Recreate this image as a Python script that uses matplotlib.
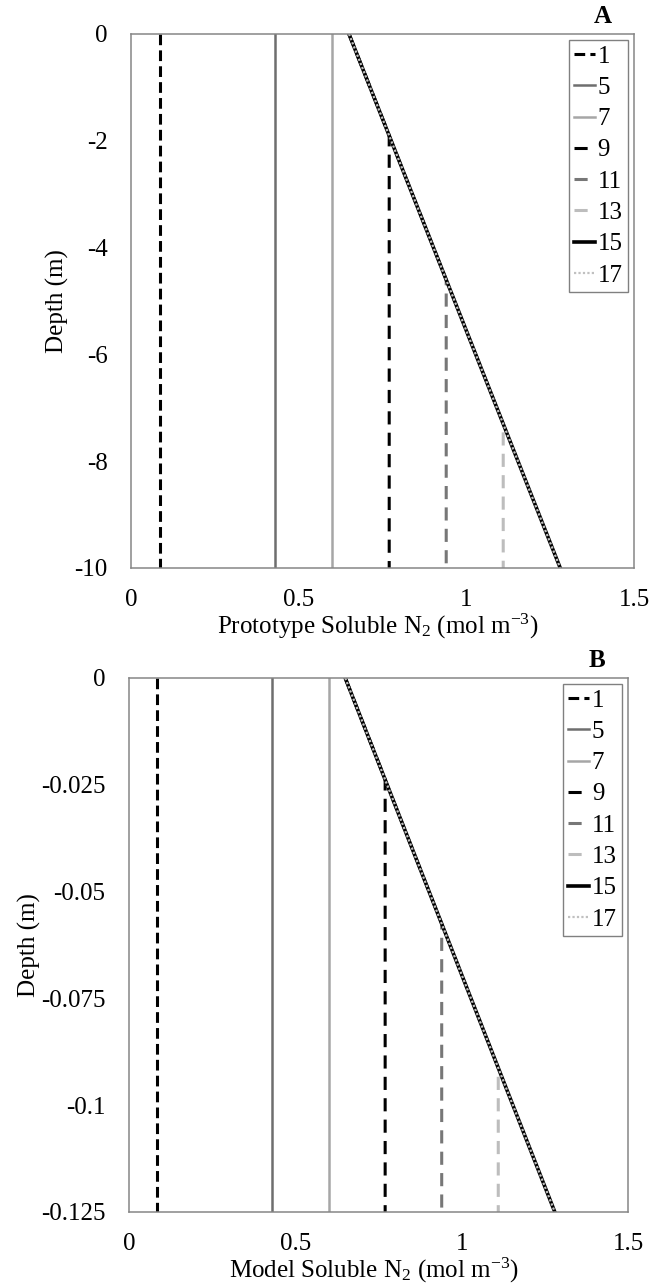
import matplotlib
matplotlib.use("Agg")
import matplotlib.pyplot as plt

plt.rcParams['font.family'] = ['Liberation Serif', 'DejaVu Serif']
plt.rcParams['mathtext.fontset'] = 'custom'
plt.rcParams['mathtext.rm'] = 'Liberation Serif'
plt.rcParams['mathtext.it'] = 'Liberation Serif:italic'
plt.rcParams['axes.unicode_minus'] = False

### legend entries (profile number)
series_names = ['1', '5', '7', '9', '11', '13', '15', '17']

### soluble N2 along each profile (mol m-3)
n2_1 = [0.085, 0.085]
n2_5 = [0.43, 0.43]
n2_7 = [0.60, 0.60]
n2_9 = [0.65, 0.77, 0.77]
n2_11 = [0.65, 0.94, 0.94]
n2_13 = [0.65, 1.11, 1.11]
n2_15 = [0.65, 1.28]
n2_17 = [0.65, 1.28]

### prototype depths (m)
proto_depth_1 = [0, -10]
proto_depth_5 = [0, -10]
proto_depth_7 = [0, -10]
proto_depth_9 = [0, -1.9, -10]
proto_depth_11 = [0, -4.6, -10]
proto_depth_13 = [0, -7.3, -10]
proto_depth_15 = [0, -10]
proto_depth_17 = [0, -10]

### model depths (m)
model_depth_1 = [0, -0.125]
model_depth_5 = [0, -0.125]
model_depth_7 = [0, -0.125]
model_depth_9 = [0, -0.02375, -0.125]
model_depth_11 = [0, -0.0575, -0.125]
model_depth_13 = [0, -0.09125, -0.125]
model_depth_15 = [0, -0.125]
model_depth_17 = [0, -0.125]

proto_yticks = [0, -2, -4, -6, -8, -10]
proto_ylabels = ['0', '-2', '-4', '-6', '-8', '-10']
model_yticks = [0, -0.025, -0.05, -0.075, -0.1, -0.125]
model_ylabels = ['0', '-0.025', '-0.05', '-0.075', '-0.1', '-0.125']
xticks = [0, 0.5, 1, 1.5]
xlabels = ['0', '0.5', '1', '1.5']

n2_all = [n2_1, n2_5, n2_7, n2_9, n2_11, n2_13, n2_15, n2_17]
proto_all = [proto_depth_1, proto_depth_5, proto_depth_7, proto_depth_9,
             proto_depth_11, proto_depth_13, proto_depth_15, proto_depth_17]
model_all = [model_depth_1, model_depth_5, model_depth_7, model_depth_9,
             model_depth_11, model_depth_13, model_depth_15, model_depth_17]

styles = {
    '1': dict(color='black', lw=2.2, dashes=(3.5, 1.7)),
    '5': dict(color='#6e6e6e', lw=1.8),
    '7': dict(color='#a6a6a6', lw=1.8),
    '9': dict(color='black', lw=2.2, dashes=(4.3, 2.7)),
    '11': dict(color='#777777', lw=2.2, dashes=(4.3, 2.7)),
    '13': dict(color='#bdbdbd', lw=2.2, dashes=(4.3, 2.7)),
    '15': dict(color='black', lw=2.6),
    '17': dict(color='#c0c0c0', lw=1.6, dashes=(1, 1)),
}

FS = 18


def draw_panel(ax, depths, yticks, ylabels, ymin, xlab, tag, ylab_x):
    for name, x, y in zip(series_names, n2_all, depths):
        ax.plot(x, y, label=name, **styles[name])
    ax.set_xlim(0, 1.5)
    ax.set_ylim(ymin, 0)
    ax.set_xticks(xticks)
    ax.set_xticklabels(xlabels)
    ax.set_yticks(yticks)
    ax.set_yticklabels(ylabels)
    ax.tick_params(length=0, labelsize=FS)
    ax.tick_params(axis='y', pad=17)
    ax.tick_params(axis='x', pad=15)
    for s in ax.spines.values():
        s.set_color('#868686')
        s.set_linewidth(1.1)
    ax.set_xlabel(xlab, fontsize=FS)
    ax.xaxis.set_label_coords(0.49, -0.082)
    ax.set_ylabel('Depth (m)', fontsize=FS)
    ax.yaxis.set_label_coords(ylab_x, 0.5)
    ax.text(0.955, 1.012, tag, transform=ax.transAxes, ha='right', va='bottom',
            fontsize=FS, fontweight='bold')
    leg = ax.legend(loc='upper right', bbox_to_anchor=(1, 1), borderaxespad=0.25,
                    fancybox=False, edgecolor='#808080', framealpha=1,
                    handlelength=0.86, handletextpad=0.1, labelspacing=0.35,
                    borderpad=0.2, fontsize=FS)
    leg.get_frame().set_linewidth(1.0)


fig = plt.figure(figsize=(6.54, 12.87), dpi=100)
ax1 = fig.add_axes([131 / 654, 1 - 568 / 1287, 503 / 654, 534 / 1287])
ax2 = fig.add_axes([129 / 654, 1 - 1212 / 1287, 499 / 654, 534 / 1287])

draw_panel(ax1, proto_all, proto_yticks, proto_ylabels, -10,
           r'Prototype Soluble N$_2$ (mol m$^{-3}$)', 'A', -0.123)
draw_panel(ax2, model_all, model_yticks, model_ylabels, -0.125,
           r'Model Soluble N$_2$ (mol m$^{-3}$)', 'B', -0.176)

fig.savefig('out.png', dpi=100)
